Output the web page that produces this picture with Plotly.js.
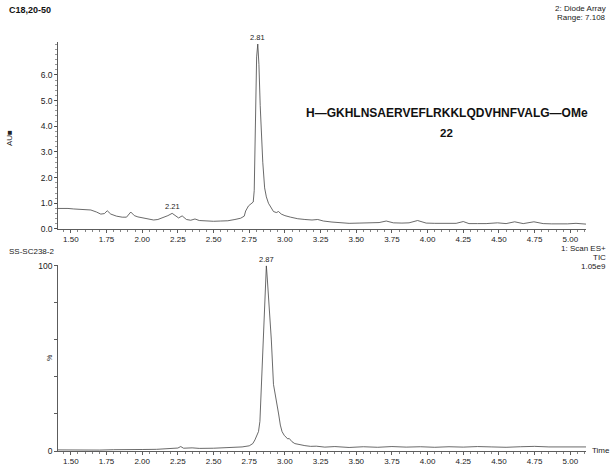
<!DOCTYPE html>
<html>
<head>
<meta charset="utf-8">
<script src="https://cdn.plot.ly/plotly-3.0.1.min.js"></script>
<style>html,body{margin:0;padding:0;background:#fff;}#chart{width:613px;height:465px;}</style>
</head>
<body>
<div id="chart"></div>
<script>
// Top trace: 2: Diode Array (AU) vs retention time (min)
const uvTime = [1.41,1.45,1.48,1.52,1.55,1.60,1.64,1.68,1.71,1.735,1.755,1.78,1.82,1.86,1.89,1.92,1.945,1.97,2.00,2.04,2.08,2.11,2.15,2.18,2.21,2.235,2.255,2.28,2.31,2.34,2.37,2.40,2.45,2.50,2.55,2.60,2.65,2.69,2.715,2.725,2.745,2.765,2.778,2.785,2.793,2.802,2.81,2.818,2.827,2.835,2.845,2.858,2.87,2.885,2.90,2.92,2.94,2.955,2.975,3.00,3.04,3.09,3.14,3.19,3.23,3.27,3.33,3.40,3.45,3.52,3.57,3.66,3.71,3.76,3.82,3.87,3.93,3.99,4.05,4.11,4.20,4.25,4.29,4.35,4.41,4.49,4.55,4.61,4.67,4.745,4.81,4.87,4.93,4.98,5.04,5.08,5.11];
const uvAbs  = [0.80,0.81,0.80,0.78,0.77,0.75,0.74,0.66,0.58,0.60,0.71,0.58,0.50,0.46,0.46,0.66,0.52,0.47,0.43,0.39,0.35,0.37,0.44,0.52,0.61,0.49,0.43,0.51,0.37,0.34,0.39,0.33,0.31,0.30,0.31,0.32,0.37,0.42,0.50,0.70,0.90,0.98,1.05,1.5,4.5,6.7,7.2,6.4,4.8,3.6,2.6,1.6,1.25,1.0,0.85,0.68,0.64,0.68,0.58,0.52,0.46,0.40,0.37,0.35,0.37,0.31,0.27,0.24,0.22,0.23,0.23,0.25,0.31,0.24,0.23,0.24,0.33,0.23,0.22,0.21,0.22,0.29,0.21,0.21,0.21,0.24,0.21,0.28,0.21,0.28,0.21,0.20,0.19,0.20,0.22,0.19,0.19];

// Bottom trace: 1: Scan ES+ TIC (%) vs retention time (min)
const ticTime = [1.41,1.50,1.60,1.70,1.80,1.90,2.00,2.10,2.20,2.25,2.27,2.29,2.35,2.40,2.50,2.60,2.65,2.70,2.75,2.775,2.79,2.803,2.815,2.825,2.835,2.845,2.855,2.865,2.87,2.876,2.88,2.885,2.895,2.905,2.92,2.935,2.945,2.956,2.968,2.98,2.995,3.01,3.02,3.03,3.05,3.07,3.10,3.14,3.18,3.22,3.28,3.35,3.45,3.55,3.65,3.75,3.85,3.95,4.05,4.15,4.25,4.35,4.45,4.55,4.65,4.75,4.85,4.95,5.05,5.11];
const ticPct  = [0.6,0.5,0.6,0.5,0.7,0.6,0.8,0.9,1.3,1.6,2.4,1.5,1.7,1.4,1.5,1.7,1.9,2.2,2.8,4.0,6.0,8.5,10.5,16,35,55,79,95,100,94,89,88,75,60,36,30,26,20,14,10.5,8.5,7.5,6.5,6.8,5,4,3.4,2.9,2.5,2.6,2.1,2.4,1.9,2.3,2.0,2.4,2.1,2.3,2.0,2.3,2.1,2.4,2.2,2.0,2.3,2.5,2.2,2.3,2.1,2.2];

// Labels
const topYTickVals = [0,1,2,3,4,5,6];
const topYTickText = ["0.0","1.0","2.0","3.0","4.0","5.0","6.0"];
const botYTickVals = [0,20,40,60,80,100];
const botYTickText = ["0","","","","","100"];
const peakLabels = [
  {t:"2.81", x:2.81, y:7.2, ax:"x", ay:"y"},
  {t:"2.21", x:2.21, y:0.61, ax:"x", ay:"y"},
  {t:"2.87", x:2.87, y:100, ax:"x2", ay:"y2"}
];

const FONT = "Liberation Sans, Arial, Helvetica, sans-serif";
const LC = "#333";

const xBase = {
  range:[1.41,5.11], showgrid:false, zeroline:false, showline:true, linecolor:LC, linewidth:0.8,
  ticks:"outside", ticklen:3, tickwidth:0.8, tickcolor:LC, tickmode:"linear", tick0:1.5, dtick:0.25,
  tickformat:".2f", tickfont:{family:FONT,size:8,color:"#222"},
  minor:{ticks:"outside", ticklen:2, tickwidth:0.6, tickcolor:LC, tickmode:"linear", tick0:1.5, dtick:0.05, showgrid:false},
  fixedrange:true
};

const traces = [
  {x:uvTime, y:uvAbs, xaxis:"x", yaxis:"y", type:"scatter", mode:"lines",
   line:{color:"#444", width:0.8}, hoverinfo:"skip"},
  {x:ticTime, y:ticPct, xaxis:"x2", yaxis:"y2", type:"scatter", mode:"lines",
   line:{color:"#444", width:0.8}, hoverinfo:"skip"}
];

function pa(text, x, y, opts){
  return Object.assign({text:text, x:x, y:y, xref:"paper", yref:"paper", showarrow:false,
    font:{family:FONT, size:8, color:"#222"}}, opts||{});
}

const annotations = [
  pa("<b>C18,20-50</b>", -0.0966, 1.078, {xanchor:"left", yanchor:"middle", font:{family:FONT,size:9,color:"#111"}}),
  pa("2: Diode Array", 1.0417, 1.0807, {xanchor:"right", yanchor:"middle"}),
  pa("Range: 7.108", 1.0417, 1.0587, {xanchor:"right", yanchor:"middle"}),
  pa("<b>H—GKHLNSAERVEFLRKKLQDVHNFVALG—OMe</b>", 0.7367, 0.8264, {xanchor:"center", yanchor:"middle", font:{family:FONT,size:12,color:"#111"}}),
  pa("<b>22</b>", 0.7367, 0.7775, {xanchor:"center", yanchor:"middle", font:{family:FONT,size:11.5,color:"#111"}}),
  pa("AU■", -0.0909, 0.7653, {xanchor:"center", yanchor:"middle", textangle:-90, font:{family:FONT,size:8,color:"#222"}}),
  pa("SS-SC238-2", -0.0966, 0.4866, {xanchor:"left", yanchor:"middle"}),
  pa("1: Scan ES+", 1.0417, 0.4963, {xanchor:"right", yanchor:"middle"}),
  pa("TIC", 1.0417, 0.4743, {xanchor:"right", yanchor:"middle"}),
  pa("1.05e9", 1.0417, 0.4499, {xanchor:"right", yanchor:"middle"}),
  pa("%", -0.0152, 0.2274, {xanchor:"center", yanchor:"middle", textangle:-90, font:{family:FONT,size:7,color:"#222"}}),
  pa("Time", 1.0076, 0.0024, {xanchor:"left", yanchor:"middle"})
];
peakLabels.forEach(p => annotations.push({text:p.t, x:p.x, y:p.y, xref:p.ax, yref:p.ay,
  showarrow:false, yanchor:"bottom", xanchor:"center", yshift:0,
  font:{family:FONT,size:7.5,color:"#222"}}));

const layout = {
  width:613, height:465, margin:{l:58, r:27, t:42, b:14},
  paper_bgcolor:"#fff", plot_bgcolor:"#fff", showlegend:false,
  font:{family:FONT, size:8, color:"#222"},
  xaxis:Object.assign({}, xBase, {anchor:"y", domain:[0,1]}),
  xaxis2:Object.assign({}, xBase, {anchor:"y2", domain:[0,1]}),
  yaxis:{domain:[0.5428,1], range:[0,7.28], anchor:"x", showgrid:false, zeroline:false, showline:true,
    linecolor:LC, linewidth:0.8, ticks:"outside", ticklen:3, tickwidth:0.8, tickcolor:LC,
    tickmode:"array", tickvals:topYTickVals, ticktext:topYTickText,
    tickfont:{family:FONT,size:8.5,color:"#222"},
    minor:{ticks:"outside", ticklen:2, tickwidth:0.5, tickcolor:LC, tickmode:"linear", tick0:0, dtick:0.2, showgrid:false},
    fixedrange:true},
  yaxis2:{domain:[0,0.454], range:[0,100.3], anchor:"x2", showgrid:false, zeroline:false, showline:true,
    linecolor:LC, linewidth:0.8, ticks:"outside", ticklen:3, tickwidth:0.8, tickcolor:LC,
    tickmode:"array", tickvals:botYTickVals, ticktext:botYTickText,
    tickfont:{family:FONT,size:8.5,color:"#222"}, fixedrange:true},
  annotations:annotations
};

Plotly.newPlot("chart", traces, layout, {staticPlot:true, displayModeBar:false});
</script>
</body>
</html>
